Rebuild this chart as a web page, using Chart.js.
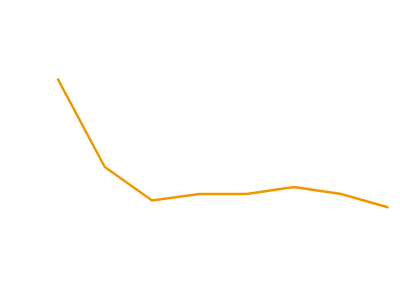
<!DOCTYPE html>
<html lang="en">

<head>
    <meta charset="UTF-8">
    <script src="https://cdn.jsdelivr.net/npm/chart.js"></script>
    <title>Line</title>
    <style>
        body { margin: 0; background: #fff; }
    </style>
</head>

<body>
    <div style="width: 400px; height: 300px;">
        <canvas id="lineChart"></canvas>
    </div>

    <script>
        // data
        const labels = ['1', '2', '3', '4', '5', '6', '7', '8'];
        const values = [221.5, 133, 99.5, 106, 106, 113, 106, 92.5];

        const ctx = document.getElementById('lineChart').getContext('2d');
        new Chart(ctx, {
            type: 'line',
            data: {
                labels: labels,
                datasets: [{
                    data: values,
                    borderColor: 'rgb(242, 150, 0)',
                    borderWidth: 2.5,
                    pointRadius: 0,
                    tension: 0,
                    fill: false
                }]
            },
            options: {
                responsive: true,
                maintainAspectRatio: false,
                animation: false,
                layout: {
                    padding: { left: 57.5, right: 11.5, top: 0, bottom: 0 }
                },
                plugins: {
                    legend: { display: false },
                    tooltip: { enabled: false }
                },
                scales: {
                    x: { display: false, offset: false },
                    y: { display: false, min: 0, max: 300 }
                }
            }
        });
    </script>
</body>

</html>
